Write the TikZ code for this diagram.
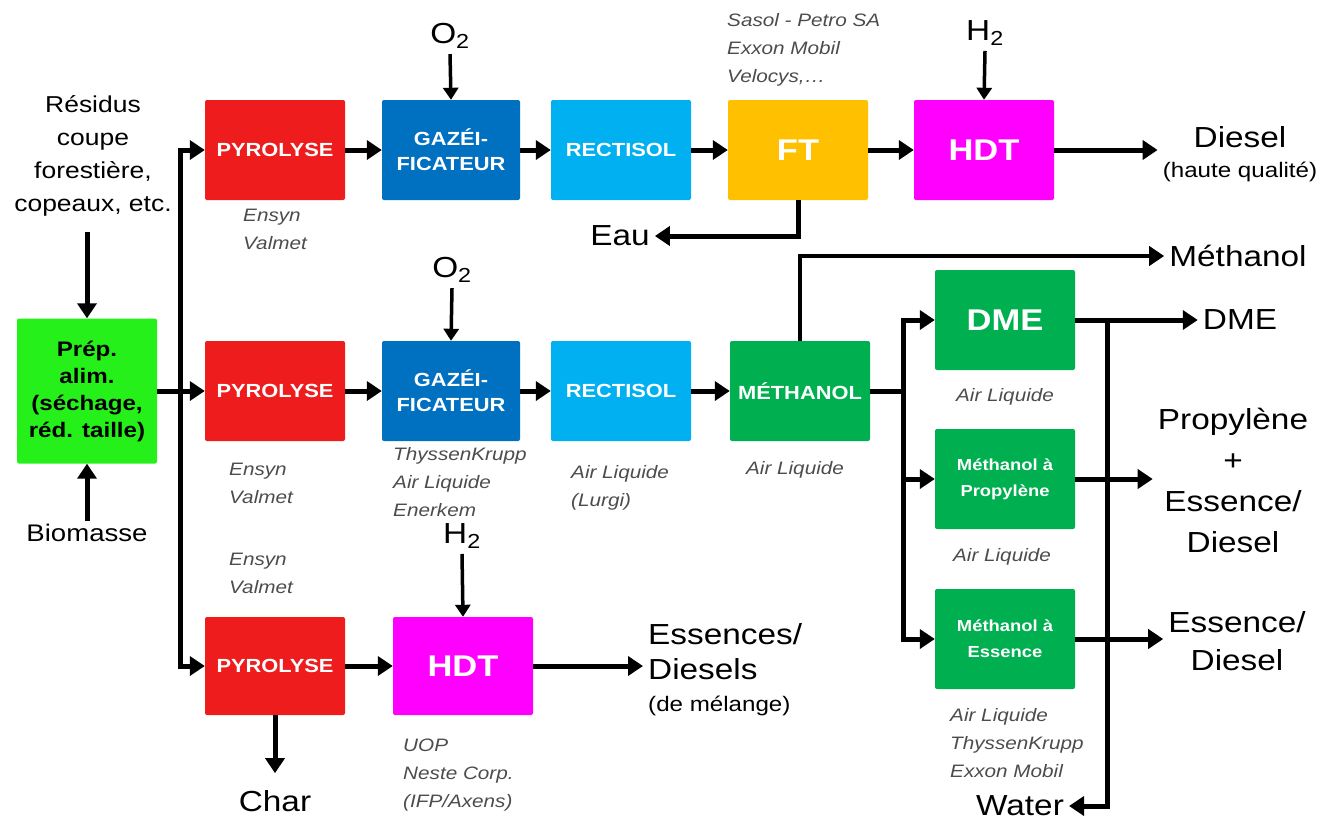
\documentclass[tikz,border=0pt]{standalone}
\usepackage{fontspec}
\setmainfont{Liberation Sans}[FakeStretch=1.15]
\usetikzlibrary{arrows.meta}

\definecolor{pyrored}{HTML}{EE1C1C}
\definecolor{gazblue}{HTML}{0070C0}
\definecolor{rectblue}{HTML}{00B0F0}
\definecolor{ftorange}{HTML}{FFC000}
\definecolor{hdtpink}{HTML}{FF00FF}
\definecolor{methgreen}{HTML}{00B050}
\definecolor{prepgreen}{HTML}{26F01A}

\begin{document}
\begin{tikzpicture}[x=1pt,y=-1pt,
  procbox/.style={minimum width=140pt, minimum height=100pt, inner sep=0pt, rounded corners=2pt,
    text=white, align=center, font=\fontsize{19}{25}\selectfont\bfseries},
  bigtxt/.style={font=\fontsize{30}{34}\selectfont\bfseries},
  smalltxt/.style={font=\fontsize{16}{26}\selectfont\bfseries},
  prodtxt/.style={align=center, inner sep=5pt, font=\fontsize{29}{38}\selectfont},
  vendortxt/.style={align=left, inner sep=0pt, text=black!70, font=\fontsize{18}{28}\selectfont\itshape},
  flowarr/.style={line width=5pt, -{Triangle[length=15pt,width=19pt]}},
  feedarr/.style={line width=3.5pt, -{Triangle[length=12pt,width=15pt]}},
  pipeline/.style={line width=5pt}]
  \useasboundingbox (0,0) rectangle (1337,825);

  % Feed preparation
  \node[procbox, minimum height=145pt, fill=prepgreen, text=black, font=\fontsize{21}{27}\selectfont\bfseries] (prep) at (87,391)
    {Prép.\\alim.\\(séchage,\\réd. taille)};
  \node[align=center, font=\fontsize{23}{33}\selectfont] (residus) at (93,156) {Résidus\\coupe\\forestière,\\copeaux, etc.};
  \node[font=\fontsize{24}{28}\selectfont] (bio) at (87,533) {Biomasse};

  % Row 1: gasification + FT
  \node[procbox, fill=pyrored] (pyr1) at (275,150) {PYROLYSE};
  \node[procbox, fill=gazblue, minimum width=138pt] (gaz1) at (451,150) {GAZÉI-\\FICATEUR};
  \node[procbox, fill=rectblue] (rect1) at (621,150) {RECTISOL};
  \node[procbox, fill=ftorange, bigtxt] (ft) at (798,150) {FT};
  \node[procbox, fill=hdtpink, bigtxt] (hdt1) at (984,150) {HDT};

  % Row 2: gasification + methanol
  \node[procbox, fill=pyrored] (pyr2) at (275,391) {PYROLYSE};
  \node[procbox, fill=gazblue, minimum width=138pt] (gaz2) at (451,391) {GAZÉI-\\FICATEUR};
  \node[procbox, fill=rectblue] (rect2) at (621,391) {RECTISOL};
  \node[procbox, fill=methgreen] (meth) at (800,391) {MÉTHANOL};

  % Methanol conversions
  \node[procbox, fill=methgreen, bigtxt] (dme) at (1005,320) {DME};
  \node[procbox, fill=methgreen, smalltxt] (mtp) at (1005,479) {Méthanol à\\Propylène};
  \node[procbox, fill=methgreen, smalltxt] (mte) at (1005,639) {Méthanol à\\Essence};

  % Row 3: pyrolysis oil upgrading
  \node[procbox, fill=pyrored, minimum height=98pt] (pyr3) at (275,666) {PYROLYSE};
  \node[procbox, fill=hdtpink, bigtxt, minimum height=98pt] (hdt2) at (463,666) {HDT};

  % Inputs
  \node[prodtxt] (o2a) at (450,36) {O\textsubscript{2}};
  \node[prodtxt] (h2a) at (985,33) {H\textsubscript{2}};
  \node[prodtxt] (o2b) at (452,270) {O\textsubscript{2}};
  \node[prodtxt] (h2b) at (462,536) {H\textsubscript{2}};

  % Products
  \node[prodtxt] (diesel) at (1240,154) {Diesel\\[-8pt]{\fontsize{21}{24}\selectfont(haute qualité)}};
  \node[prodtxt] (eau) at (620,236) {Eau};
  \node[prodtxt] (methout) at (1238,256) {Méthanol};
  \node[prodtxt] (dmeout) at (1240,320) {DME};
  \node[prodtxt, font=\fontsize{29}{41}\selectfont] (propout) at (1233,480) {Propylène\\+\\Essence/\\Diesel};
  \node[prodtxt] (essout) at (1237,641) {Essence/\\Diesel};
  \node[prodtxt] (water) at (1020,806) {Water};
  \node[prodtxt, align=left, anchor=west] (ess3) at (643,670) {Essences/\\[-3pt]Diesels\\[-6pt]{\fontsize{21}{24}\selectfont(de mélange)}};
  \node[prodtxt] (char) at (275,801) {Char};

  % Technology suppliers
  \node[vendortxt, anchor=west] (v1) at (727,50) {Sasol - Petro SA\\Exxon Mobil\\Velocys,…};
  \node[vendortxt, anchor=west] (v2) at (243,229) {Ensyn\\Valmet};
  \node[vendortxt, anchor=west] (v3) at (229,483) {Ensyn\\Valmet};
  \node[vendortxt, anchor=west] (v4) at (393,482) {ThyssenKrupp\\Air Liquide\\Enerkem};
  \node[vendortxt, anchor=west] (v5) at (571,488) {Air Liquide\\(Lurgi)};
  \node[vendortxt] (v6) at (795,470) {Air Liquide};
  \node[vendortxt, anchor=west] (v7) at (229,573) {Ensyn\\Valmet};
  \node[vendortxt] (v8) at (1005,397) {Air Liquide};
  \node[vendortxt] (v9) at (1002,557) {Air Liquide};
  \node[vendortxt, anchor=west] (v10) at (950,743) {Air Liquide\\ThyssenKrupp\\Exxon Mobil};
  \node[vendortxt, anchor=west] (v11) at (403,775) {UOP\\Neste Corp.\\(IFP/Axens)};

  % Split / merge points
  \coordinate (split) at (180,391);
  \coordinate (msplit) at (903,391);
  \coordinate (djoin) at (1107,320);

  % Feed arrows
  \draw[flowarr] (residus.south -| prep.north) ++(0,12) -- (prep.north);
  \draw[flowarr] (bio.north) -- (prep.south);
  \draw[pipeline] (prep.east) -- (split);
  \draw[flowarr] (split) |- (pyr1.west);
  \draw[flowarr] (split) -- (pyr2.west);
  \draw[flowarr] (split) |- (pyr3.west);

  % Row 1 connections
  \draw[flowarr] (pyr1.east) -- (gaz1.west);
  \draw[flowarr] (gaz1.east) -- (rect1.west);
  \draw[flowarr] (rect1.east) -- (ft.west);
  \draw[flowarr] (ft.east) -- (hdt1.west);
  \draw[flowarr] (hdt1.east) -- (hdt1.east -| diesel.west);
  \draw[flowarr] (ft.south) |- (eau.east);
  \draw[feedarr] (o2a.south) -- (gaz1.north);
  \draw[feedarr] (h2a.south) -- (hdt1.north);

  % Row 2 connections
  \draw[flowarr] (pyr2.east) -- (gaz2.west);
  \draw[flowarr] (gaz2.east) -- (rect2.west);
  \draw[flowarr] (rect2.east) -- (meth.west);
  \draw[feedarr] (o2b.south) -- (gaz2.north);
  \draw[line width=4pt, -{Triangle[length=15pt,width=19pt]}] (meth.north) |- (methout.west);
  \draw[pipeline] (meth.east) -- (msplit);
  \draw[flowarr] (msplit) |- (dme.west);
  \draw[flowarr] (msplit |- mtp.west) -- (mtp.west);
  \draw[flowarr] (msplit) |- (mte.west);
  \draw[flowarr] (dme.east) -- (dmeout.west);
  \draw[flowarr] (djoin) |- (water.east);
  \draw[flowarr] (mtp.east) -- (mtp.east -| propout.west);
  \draw[flowarr] (mte.east) -- (mte.east -| essout.west);

  % Row 3 connections
  \draw[flowarr] (pyr3.east) -- (hdt2.west);
  \draw[flowarr] (hdt2.east) -- (hdt2.east -| ess3.west);
  \draw[feedarr] (h2b.south) -- (hdt2.north);
  \draw[flowarr, shorten >=12pt] (pyr3.south) -- (char.north);
\end{tikzpicture}
\end{document}
